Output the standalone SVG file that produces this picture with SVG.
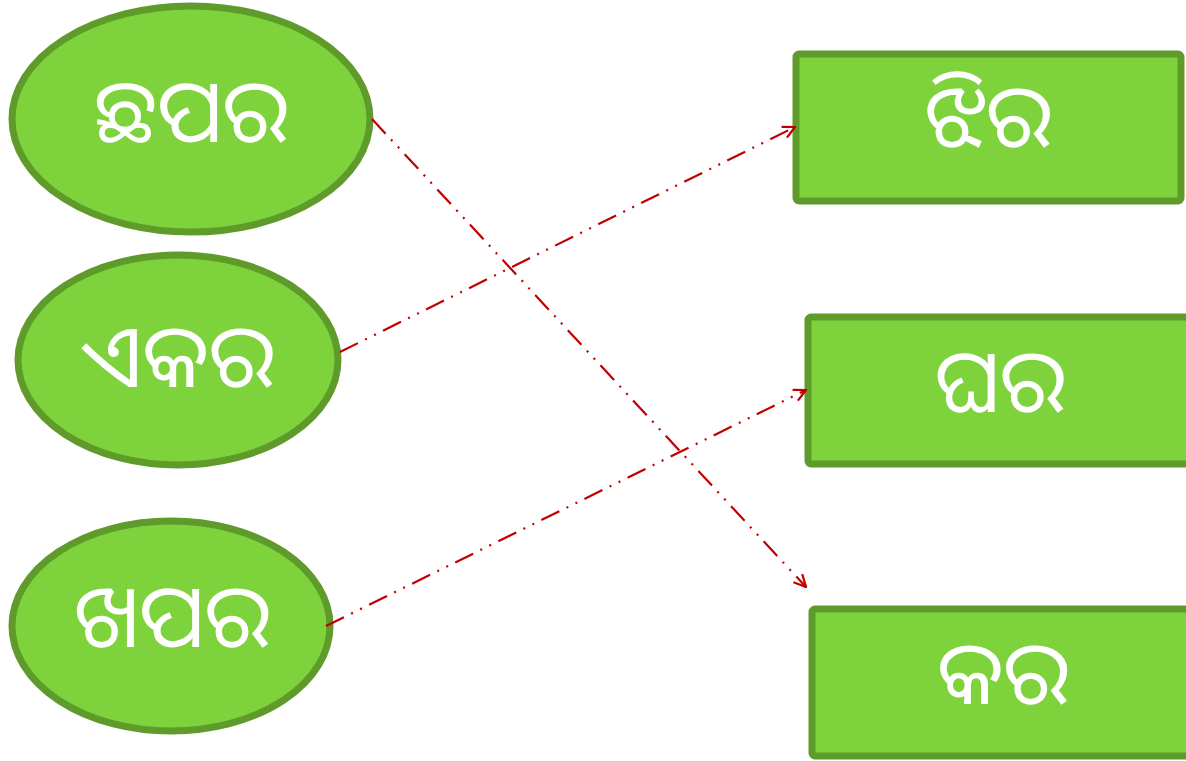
<svg xmlns="http://www.w3.org/2000/svg" width="1186" height="761" viewBox="0 0 1186 761">
<style>
.shape{fill:#7ed23c;stroke:#5f9b2b;stroke-width:7}
.lbl{font-family:"Noto Sans Oriya","Noto Sans","DejaVu Sans",sans-serif;font-size:88px;fill:#ffffff;text-anchor:middle;dominant-baseline:central}
.conn{fill:none;stroke:#c00000;stroke-width:2.2;stroke-dasharray:20 8 2 8 2 8;marker-end:url(#arr)}
</style>
<defs>
<marker id="arr" viewBox="0 0 14 14" refX="13" refY="7" markerWidth="14" markerHeight="14" markerUnits="userSpaceOnUse" orient="auto">
<path d="M1,1 L13,7 L1,13" fill="none" stroke="#c00000" stroke-width="2.2"/>
</marker>
</defs>
<rect width="1186" height="761" fill="#ffffff"/>
<g id="n1"><ellipse class="shape" cx="191" cy="119" rx="179" ry="113"/><text class="lbl" x="191" y="108">ଛପର</text></g>
<g id="n2"><ellipse class="shape" cx="178" cy="360" rx="160" ry="105"/><text class="lbl" x="178" y="353">ଏକର</text></g>
<g id="n3"><ellipse class="shape" cx="171" cy="626" rx="159" ry="105"/><text class="lbl" x="172" y="613">ଖପର</text></g>
<g id="n4"><rect class="shape" x="796" y="54" width="385" height="147" rx="3"/><text class="lbl" x="988" y="113">ଝିର</text></g>
<g id="n5"><rect class="shape" x="808" y="317" width="385" height="147" rx="3"/><text class="lbl" x="1000" y="378">ଘର</text></g>
<g id="n6"><rect class="shape" x="812" y="609" width="385" height="147" rx="3"/><text class="lbl" x="1003" y="670">କର</text></g>
<g id="connectors">
<line class="conn" x1="372" y1="119" x2="806" y2="587"/>
<line class="conn" x1="340" y1="352" x2="795" y2="127"/>
<line class="conn" x1="326" y1="626" x2="806" y2="390"/>
</g>
</svg>
